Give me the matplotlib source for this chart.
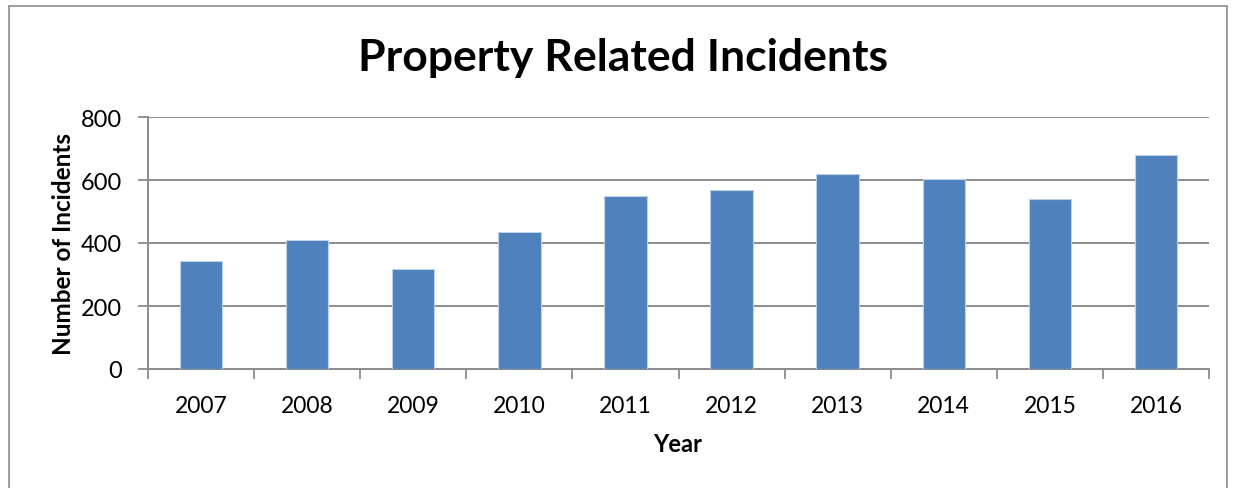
import matplotlib
matplotlib.use("Agg")
import matplotlib.pyplot as plt
from matplotlib.patches import Rectangle

years = ["2007", "2008", "2009", "2010", "2011", "2012", "2013", "2014", "2015", "2016"]
incidents = [343, 408, 316, 434, 550, 569, 618, 603, 541, 680]
y_ticks = [0, 200, 400, 600, 800]

W, H = 1233, 489
fig = plt.figure(figsize=(W / 100, H / 100), dpi=100)
plt.rcParams["font.family"] = ["Lato", "DejaVu Sans"]

# outer chart frame
fig.patches.append(Rectangle((9 / W, -0.1), (1227 - 9) / W, 1.1 - 7 / H,
                             transform=fig.transFigure, fill=False,
                             edgecolor="#8c8c8c", linewidth=1.2))

left, right, top, bottom = 148, 1209, 118, 370
ax = fig.add_axes([left / W, 1 - bottom / H, (right - left) / W, (bottom - top) / H])

x = range(len(years))
ax.bar(x, incidents, width=0.4, color="#4F81BD", edgecolor="#bcd0ea", linewidth=0.8, zorder=3)

ax.set_xlim(-0.5, len(years) - 0.5)
ax.set_ylim(0, 800)
ax.set_yticks(y_ticks)
ax.set_yticklabels([str(v) for v in y_ticks], fontsize=17)
ax.set_xticks([i - 0.5 for i in range(len(years) + 1)], minor=False)
ax.set_xticklabels([""] * (len(years) + 1))
ax.set_xticks(list(x), minor=True)
ax.set_xticklabels(years, minor=True, fontsize=16.5)
ax.tick_params(axis="x", which="minor", length=0, pad=19)
ax.tick_params(axis="x", which="major", length=7, width=1.3, color="#8c8c8c", direction="out")
ax.tick_params(axis="y", length=7, width=1.3, color="#8c8c8c", direction="out", pad=12)

ax.grid(axis="y", color="#8c8c8c", linewidth=1.4, zorder=0)
for s in ["top", "right"]:
    ax.spines[s].set_visible(False)
for s in ["left", "bottom"]:
    ax.spines[s].set_color("#8c8c8c")
    ax.spines[s].set_linewidth(1.4)

ax.set_ylabel("Number of Incidents", fontsize=17.5, fontweight="bold", labelpad=4)
fig.text(678 / W, 1 - 445 / H, "Year", ha="center", va="center", fontsize=17, fontweight="bold")
fig.text(623 / W, 1 - 58 / H, "Property Related Incidents", ha="center", va="center",
         fontsize=32, fontweight="bold")

fig.savefig("out.png", dpi=100)
